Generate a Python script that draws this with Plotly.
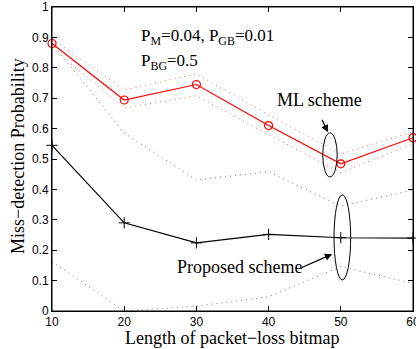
import plotly.graph_objects as go

x_len = [10, 20, 30, 40, 50, 60]
ml_mean = [0.88, 0.694, 0.745, 0.61, 0.484, 0.57]
ml_upper = [0.895, 0.727, 0.78, 0.645, 0.516, 0.59]
ml_lower = [0.865, 0.668, 0.708, 0.58, 0.455, 0.55]
prop_mean = [0.545, 0.29, 0.224, 0.252, 0.241, 0.24]
prop_upper = [0.88, 0.585, 0.431, 0.458, 0.345, 0.398]
prop_lower = [0.162, 0.0, 0.016, 0.047, 0.146, 0.091]

serif = "Liberation Serif, Times New Roman, serif"
sans = "Liberation Sans, Arial, sans-serif"
dotpat = "1px,4px"

fig = go.Figure()
fig.add_trace(go.Scatter(x=x_len, y=prop_upper, mode="lines",
                         line=dict(color="#777777", width=1, dash=dotpat), showlegend=False))
fig.add_trace(go.Scatter(x=x_len, y=prop_lower, mode="lines",
                         line=dict(color="#777777", width=1, dash=dotpat), showlegend=False))
fig.add_trace(go.Scatter(x=x_len, y=ml_upper, mode="lines",
                         line=dict(color="#ff6060", width=1, dash=dotpat), showlegend=False))
fig.add_trace(go.Scatter(x=x_len, y=ml_lower, mode="lines",
                         line=dict(color="#ff6060", width=1, dash=dotpat), showlegend=False))
fig.add_trace(go.Scatter(x=x_len, y=ml_mean, mode="lines+markers",
                         line=dict(color="red", width=1.2),
                         marker=dict(symbol="circle-open", size=8, color="red", line=dict(width=1.2)),
                         showlegend=False, cliponaxis=False))
fig.add_trace(go.Scatter(x=x_len, y=prop_mean, mode="lines+markers",
                         line=dict(color="black", width=1.2),
                         marker=dict(symbol="cross-thin-open", size=8, color="black", line=dict(width=1, color="black")),
                         showlegend=False, cliponaxis=False))

# ellipses
fig.add_shape(type="circle", xref="x", yref="y", x0=47.5, x1=49.5, y0=0.441, y1=0.586,
              line=dict(color="black", width=1))
fig.add_shape(type="circle", xref="x", yref="y", x0=49.06, x1=51.37, y0=0.102, y1=0.382,
              line=dict(color="black", width=1))
# frame
fig.add_shape(type="rect", xref="paper", yref="paper", x0=0, x1=1, y0=0, y1=1,
              line=dict(color="black", width=1))

fig.add_annotation(x=48.2, y=0.588, ax=47.3, ay=0.634, xref="x", yref="y", axref="x", ayref="y",
                   showarrow=True, arrowhead=2, arrowsize=1.2, arrowwidth=1.2, arrowcolor="black", text="")
fig.add_annotation(x=47.1, y=0.693, xref="x", yref="y", text="ML scheme", showarrow=False,
                   font=dict(family=serif, size=18, color="black"))
fig.add_annotation(x=48.8, y=0.187, ax=44.4, ay=0.141, xref="x", yref="y", axref="x", ayref="y",
                   showarrow=True, arrowhead=2, arrowsize=1.2, arrowwidth=1.2, arrowcolor="black", text="")
fig.add_annotation(x=35.9, y=0.145, xref="x", yref="y", text="Proposed scheme", showarrow=False,
                   font=dict(family=serif, size=18, color="black"))
fig.add_annotation(x=22.0, y=0.9, xref="x", yref="y", xanchor="left",
                   text="P<sub>M</sub>=0.04, P<sub>GB</sub>=0.01", showarrow=False,
                   font=dict(family=serif, size=17, color="black"))
fig.add_annotation(x=22.0, y=0.818, xref="x", yref="y", xanchor="left",
                   text="P<sub>BG</sub>=0.5", showarrow=False,
                   font=dict(family=serif, size=17, color="black"))

# axis titles
fig.add_annotation(x=0.5, y=0, xref="paper", yref="paper", yshift=-27, yanchor="middle",
                   text="Length of packet\u2212loss bitmap", showarrow=False,
                   font=dict(family=serif, size=18, color="black"))
fig.add_annotation(x=0, y=0.51, xref="paper", yref="paper", xshift=-34, xanchor="center",
                   text="Miss\u2212detection Probability", showarrow=False, textangle=-90,
                   font=dict(family=serif, size=18, color="black"))

fig.update_layout(
    width=416, height=349,
    margin=dict(l=52, r=3, t=7, b=38, autoexpand=False),
    paper_bgcolor="white", plot_bgcolor="white",
    xaxis=dict(range=[10, 60], tickvals=[10, 20, 30, 40, 50, 60], automargin=False,
               ticklabeloverflow="allow",
               showgrid=False, zeroline=False, showline=True, linecolor="black", linewidth=1,
               mirror="allticks", ticks="inside", ticklen=5, tickcolor="black",
               tickfont=dict(family=sans, size=12, color="black")),
    yaxis=dict(range=[0, 1], tickvals=[0, 0.1, 0.2, 0.3, 0.4, 0.5, 0.6, 0.7, 0.8, 0.9, 1],
               ticktext=["0", "0.1", "0.2", "0.3", "0.4", "0.5", "0.6", "0.7", "0.8", "0.9", "1"],
               automargin=False,
               showgrid=False, zeroline=False, showline=True, linecolor="black", linewidth=1,
               mirror="allticks", ticks="inside", ticklen=5, tickcolor="black",
               tickfont=dict(family=sans, size=12, color="black")),
)

fig.write_html("out.html", config={"displayModeBar": False},
               post_script="document.body.style.margin='0';document.body.style.overflow='hidden';")
